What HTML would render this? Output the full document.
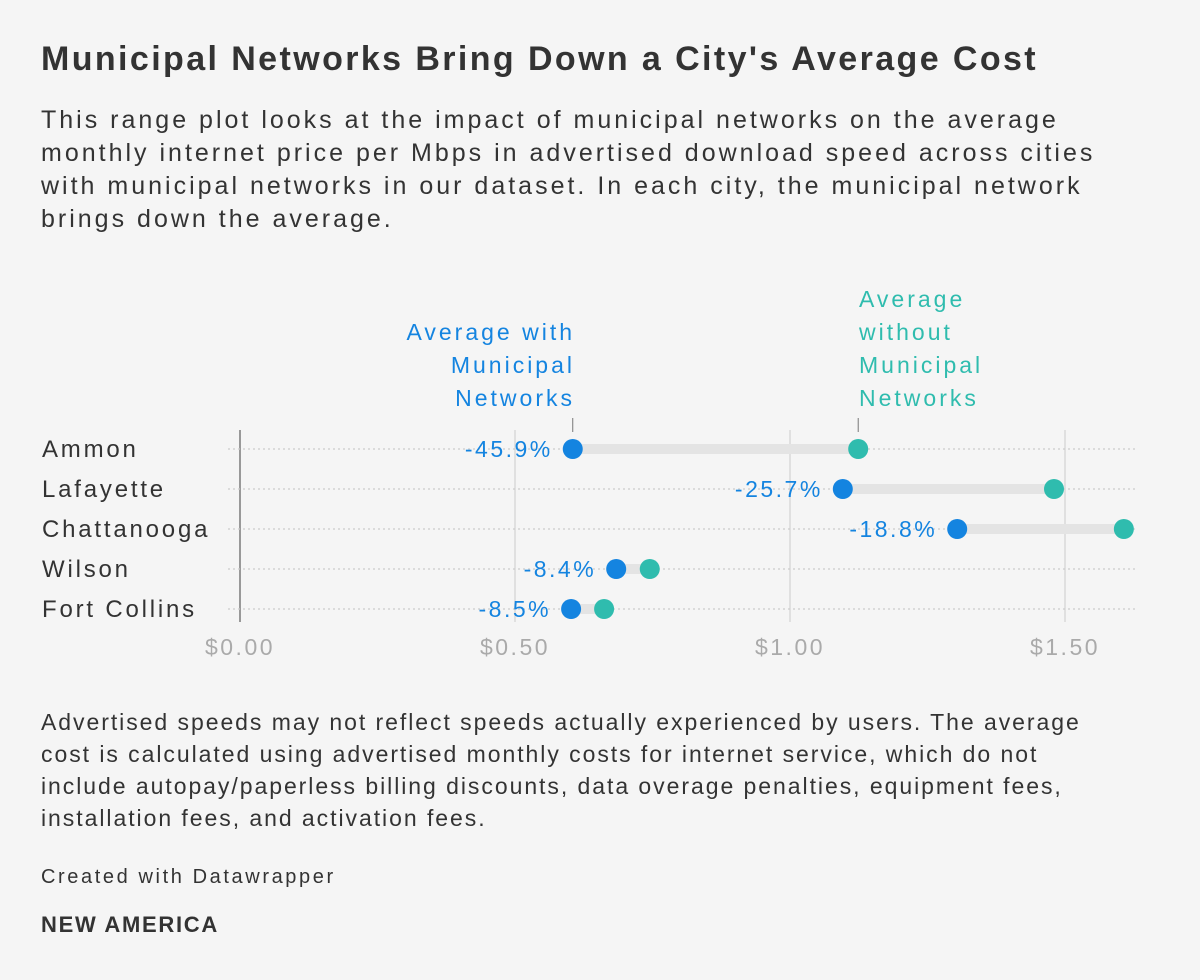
<!DOCTYPE html>
<html><head><meta charset="utf-8"><style>
body{margin:0;width:1200px;height:980px;background:#f5f5f5;font-family:"Liberation Sans",sans-serif;color:#333;position:relative;overflow:hidden}
.t{position:absolute;left:41px;white-space:nowrap}
</style></head><body>
<div class="t" style="top:40px;font-size:34px;font-weight:bold;color:#333;letter-spacing:2.4px">Municipal Networks Bring Down a City's Average Cost</div>
<div class="t" style="top:104px;font-size:25px;line-height:33px;letter-spacing:3px;color:#333">This range plot looks at the impact of municipal networks on the average<br>monthly internet price per Mbps in advertised download speed across cities<br>with municipal networks in our dataset. In each city, the municipal network<br>brings down the average.</div>
<svg id="chart" width="1200" height="980" style="position:absolute;left:0;top:0" font-family="Liberation Sans, sans-serif"></svg>
<div class="t" style="top:706px;font-size:23px;line-height:32px;letter-spacing:1.95px;color:#333">Advertised speeds may not reflect speeds actually experienced by users. The average<br>cost is calculated using advertised monthly costs for internet service, which do not<br>include autopay/paperless billing discounts, data overage penalties, equipment fees,<br>installation fees, and activation fees.</div>
<div class="t" style="top:866px;font-size:20px;color:#333;letter-spacing:2.6px">Created with Datawrapper</div>
<div class="t" style="top:912px;font-size:22px;font-weight:bold;color:#333;letter-spacing:1.7px">NEW AMERICA</div>
<script>
const cities=["Ammon","Lafayette","Chattanooga","Wilson","Fort Collins"];
const withMuni=[0.605,1.096,1.304,0.684,0.602];
const withoutMuni=[1.124,1.48,1.607,0.745,0.662];
const pctLabels=["-45.9%","-25.7%","-18.8%","-8.4%","-8.5%"];
const ticks=[0,0.5,1.0,1.5];
const tickLabels=["$0.00","$0.50","$1.00","$1.50"];
const svg=document.getElementById('chart');const NS="http://www.w3.org/2000/svg";
const x=v=>240+v*550;const y=i=>449+i*40;
function mk(t,a,p){const e=document.createElementNS(NS,t);for(const k in a)e.setAttribute(k,a[k]);(p||svg).appendChild(e);return e;}
ticks.forEach((v,i)=>{
 const l=mk('line',{x1:x(v),x2:x(v),y1:430,y2:622,stroke:i==0?'#999':'#d9d9d9','stroke-width':i==0?2:1.5});
 
 
 const t=mk('text',{x:x(v),y:655,'text-anchor':'middle','font-size':23,fill:'#aaa','letter-spacing':2.5});t.textContent=tickLabels[i];
 
 
});
cities.forEach((c,i)=>{
 const g=mk('line',{x1:228,x2:1138,y1:y(i),y2:y(i),stroke:'#ccc','stroke-width':1.2,'stroke-dasharray':'2 3'});
 
 
 const t=mk('text',{x:42,y:y(i)+8,'font-size':24,fill:'#333','letter-spacing':2.8});t.textContent=c;
 
 
 const r=mk('line',{x1:x(withMuni[i]),x2:x(withoutMuni[i]),y1:y(i),y2:y(i),stroke:'#e4e4e4','stroke-width':10});
 
 
 const a=mk('circle',{cx:x(withMuni[i]),cy:y(i),r:10,fill:'#1484e0'});
 
 
 const b=mk('circle',{cx:x(withoutMuni[i]),cy:y(i),r:10,fill:'#2fbcae'});
 
 
 const p=mk('text',{x:x(withMuni[i])-20,y:y(i)+8,'text-anchor':'end','font-size':23,fill:'#1484e0','letter-spacing':2.5});p.textContent=pctLabels[i];
 
 
});
const lw=mk('text',{x:575,y:340,'text-anchor':'end','font-size':23,fill:'#1484e0','letter-spacing':3});


["Average with","Municipal","Networks"].forEach((s,k)=>{const ts=mk('tspan',{x:575,dy:k?33:0},lw);ts.textContent=s;});
const lo=mk('text',{x:859,y:307,'font-size':23,fill:'#2fbcae','letter-spacing':3});


["Average","without","Municipal","Networks"].forEach((s,k)=>{const ts=mk('tspan',{x:859,dy:k?33:0},lo);ts.textContent=s;});
const k1=mk('line',{x1:x(withMuni[0]),x2:x(withMuni[0]),y1:418,y2:432,stroke:'#777','stroke-width':1});


const k2=mk('line',{x1:x(withoutMuni[0]),x2:x(withoutMuni[0]),y1:418,y2:432,stroke:'#777','stroke-width':1});


</script>
</body></html>
